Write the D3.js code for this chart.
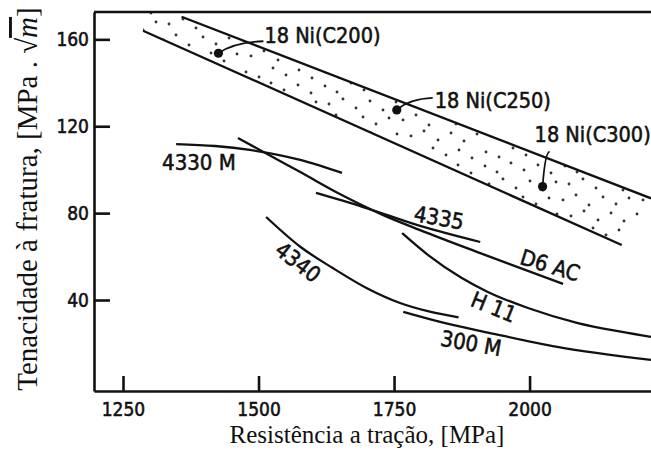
<!DOCTYPE html>
<html>
<head>
<meta charset="utf-8">
<script src="https://cdn.jsdelivr.net/npm/d3@7"></script>
<style>
  body { margin: 0; background: #fff; }
  .tick text, .lbl { font-family: "DejaVu Sans Condensed", "DejaVu Sans", sans-serif; font-stretch: condensed; fill: #111; stroke: #111; stroke-width: 0.55px; }
  .title { font-family: "Liberation Serif", "Times New Roman", serif; fill: #111; }
</style>
</head>
<body>
<div id="chart"></div>
<script>
// axis ticks
var xTicks = [1250, 1500, 1750, 2000];
var yTicks = [40, 80, 120, 160];

// curves: [tensile strength MPa, fracture toughness MPa.sqrt(m)]
var curve4330M = [[1348, 111.8], [1420, 110.9], [1484, 109.1], [1577, 104.5], [1654, 98.5]];
var curveD6AC = [[1462, 114.6], [1516, 107.2], [1577, 98.9], [1650, 88.8], [1730, 79.1], [1798, 72.2], [1909, 61.6], [2062, 47.4]];
var curve4335 = [[1606, 89.3], [1693, 82.8], [1798, 74.1], [1909, 66.7]];
var curve4340 = [[1514, 78.2], [1577, 64.5], [1637, 54.7], [1700, 45.4], [1761, 38.6], [1816, 34.6], [1869, 32.0]];
var curveH11 = [[1765, 70.8], [1813, 60.7], [1875, 50.1], [1923, 43.7], [1997, 36.3], [2089, 29.4], [2171, 25.3], [2224, 23.0]];
var curve300M = [[1767, 34.5], [1835, 29.9], [1927, 24.8], [2051, 18.4], [2224, 12.4]];

// 18 Ni maraging band
var bandLower = [[1287, 164.0], [2170, 65.3]];
var bandUpper = [[1358, 170.4], [2224, 86.8]];

var niGrades = ["18 Ni(C200)", "18 Ni(C250)", "18 Ni(C300)"];
var niStrength = [1426, 1755, 2024];
var niToughness = [153.6, 127.5, 92.2];

var width = 651, height = 452;

var x = d3.scaleLinear().domain([1196.5, 2224]).range([94, 651]);
var y = d3.scaleLinear().domain([-1.9, 172.6]).range([391, 12]);

var svg = d3.select("#chart").append("svg")
    .attr("width", width)
    .attr("height", height);

var defs = svg.append("defs");
var pat = defs.append("pattern")
    .attr("id", "stipple")
    .attr("patternUnits", "userSpaceOnUse")
    .attr("width", 80)
    .attr("height", 80);
// irregular stipple texture
[[5, 6], [17, 12], [31, 3], [44, 10], [58, 5], [71, 13],
 [9, 24], [23, 19], [36, 28], [50, 21], [63, 30], [76, 22],
 [3, 40], [16, 35], [29, 45], [43, 37], [56, 44], [69, 38],
 [11, 56], [24, 51], [38, 60], [51, 53], [64, 61], [77, 54],
 [6, 72], [19, 77], [33, 68], [46, 75], [59, 70], [72, 78]]
    .forEach(function (p) {
        pat.append("circle").attr("cx", p[0]).attr("cy", p[1]).attr("r", 1.45).attr("fill", "#333");
    });

defs.append("clipPath").attr("id", "plotclip")
    .append("rect").attr("x", 94).attr("y", 12).attr("width", 557).attr("height", 379);

// band
var bandPoly = [bandLower[0], bandLower[1], bandUpper[1], bandUpper[0], [bandLower[0][0], y.domain()[1]]];
svg.append("path")
    .attr("clip-path", "url(#plotclip)")
    .attr("d", "M" + bandPoly.map(function (d) { return x(d[0]) + "," + y(d[1]); }).join("L") + "Z")
    .attr("fill", "url(#stipple)");

var line = d3.line()
    .x(function (d) { return x(d[0]); })
    .y(function (d) { return y(d[1]); })
    .curve(d3.curveMonotoneX);

var curves = [bandLower, bandUpper, curve4330M, curveD6AC, curve4335, curve4340, curveH11, curve300M];
svg.append("g")
    .attr("clip-path", "url(#plotclip)")
    .selectAll("path")
    .data(curves)
    .enter()
    .append("path")
    .attr("d", line)
    .attr("fill", "none")
    .attr("stroke", "#111")
    .attr("stroke-width", 2.3);

// axes
var xAxis = svg.append("g")
    .attr("transform", "translate(0,391)")
    .call(d3.axisBottom(x).tickValues(xTicks).tickSizeInner(-15).tickSizeOuter(0).tickPadding(12).tickFormat(d3.format("d")));
var yAxis = svg.append("g")
    .attr("transform", "translate(94,0)")
    .call(d3.axisLeft(y).tickValues(yTicks).tickSizeInner(-16).tickSizeOuter(0).tickPadding(5).tickFormat(d3.format("d")));
[xAxis, yAxis].forEach(function (a) {
    a.selectAll("path, line").attr("stroke", "#111").attr("stroke-width", 2.6);
    a.selectAll("text").style("font-size", "19px");
});
svg.append("line")
    .attr("x1", 94).attr("x2", 651)
    .attr("y1", 12).attr("y2", 12)
    .attr("stroke", "#111")
    .attr("stroke-width", 2.6);

// curve labels
var curveLabels = [
    {t: "4330 M", v: [1390, 103.5], r: 0},
    {t: "4335", v: [1833, 78.0], r: 10},
    {t: "4340", v: [1573, 57.5], r: 38},
    {t: "D6 AC", v: [2038, 56.1], r: 17},
    {t: "H 11", v: [1934, 36.8], r: 22},
    {t: "300 M", v: [1892, 20.2], r: 10}
];
svg.selectAll(".clbl")
    .data(curveLabels)
    .enter()
    .append("text")
    .attr("class", "lbl")
    .attr("transform", function (d) {
        return "translate(" + x(d.v[0]) + "," + y(d.v[1]) + ") rotate(" + d.r + ")";
    })
    .attr("text-anchor", "middle")
    .attr("dy", "0.36em")
    .style("font-size", "22px")
    .text(function (d) { return d.t; });

// 18 Ni points with leaders
var leaderOff = [[45, -12], [36, -12], [7, -35]];
var textOff = [[46, -10], [38, -2], [-8, -45]];
niGrades.forEach(function (g, i) {
    var px = x(niStrength[i]), py = y(niToughness[i]);
    var lx = px + leaderOff[i][0], ly = py + leaderOff[i][1];
    svg.append("path")
        .attr("d", "M" + px + "," + py + " Q" + (px + leaderOff[i][0] * 0.35) + "," + (ly + 1) + " " + lx + "," + ly)
        .attr("fill", "none")
        .attr("stroke", "#111")
        .attr("stroke-width", 1.8);
    svg.append("circle")
        .attr("cx", px).attr("cy", py).attr("r", 4.6)
        .attr("fill", "#111");
    svg.append("text")
        .attr("class", "lbl")
        .attr("x", px + textOff[i][0])
        .attr("y", py + textOff[i][1])
        .style("font-size", "21.5px")
        .text(g);
});

// axis titles
svg.append("text")
    .attr("class", "title")
    .attr("x", 367)
    .attr("y", 443)
    .attr("text-anchor", "middle")
    .style("font-size", "25px")
    .text("Resistência a tração, [MPa]");

var yt = svg.append("text")
    .attr("class", "title")
    .attr("transform", "translate(37,199) rotate(-90)")
    .attr("text-anchor", "middle")
    .style("font-size", "29px");
yt.append("tspan").text("Tenacidade à fratura, [MPa . √");
yt.append("tspan").style("font-style", "italic").style("text-decoration", "overline").text("m");
yt.append("tspan").text("]");
</script>
</body>
</html>
